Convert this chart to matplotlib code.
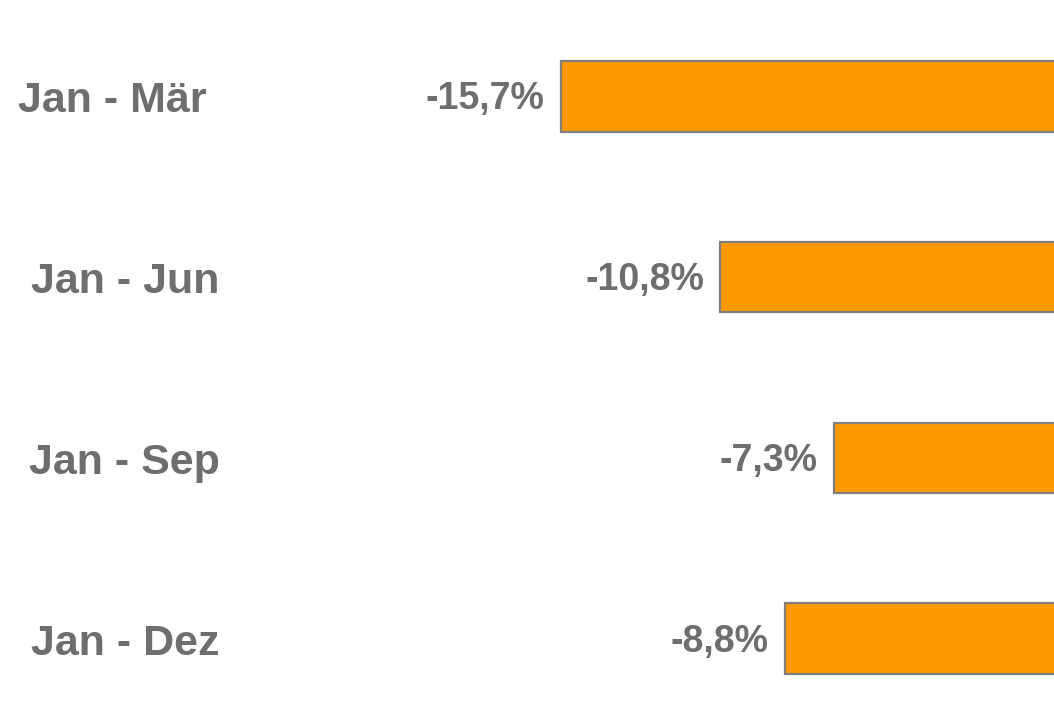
import matplotlib
matplotlib.use("Agg")
import matplotlib.pyplot as plt
from matplotlib.transforms import offset_copy

categories = ["Jan - Mär", "Jan - Jun", "Jan - Sep", "Jan - Dez"]
values = [-15.7, -10.8, -7.3, -8.8]
value_labels = ["-15,7%", "-10,8%", "-7,3%", "-8,8%"]

plt.rcParams['font.family'] = ['Liberation Sans', 'DejaVu Sans']
text_color = "#6E6E6E"

fig = plt.figure(figsize=(10.54, 7.28), dpi=100)
ax = fig.add_axes([0, 0, 1, 1])
ypos = list(range(len(categories)))
ax.barh(ypos, values, height=0.39, color="#FF9900", edgecolor="#7F7F7F", linewidth=1.6)
ax.set_xlim(-32.95, -0.52)
ax.set_ylim(3.494, -0.533)
ax.axis("off")

for y, v, lab in zip(ypos, values, value_labels):
    tr = offset_copy(ax.transData, fig=fig, x=-16, y=-3, units="dots")
    ax.text(v, y, lab, transform=tr, ha="right", va="center", fontsize=27,
            fontweight="bold", color=text_color)

label_x = [112.5, 125, 124, 125]
for y, cat, lx in zip(ypos, categories, label_x):
    ty = (ax.transData.transform((0, y))[1] - 5) / fig.bbox.height
    fig.text(lx / 1054, ty, cat, ha="center", va="center", fontsize=31,
             fontweight="bold", color=text_color)

fig.savefig("out.png", dpi=100)
